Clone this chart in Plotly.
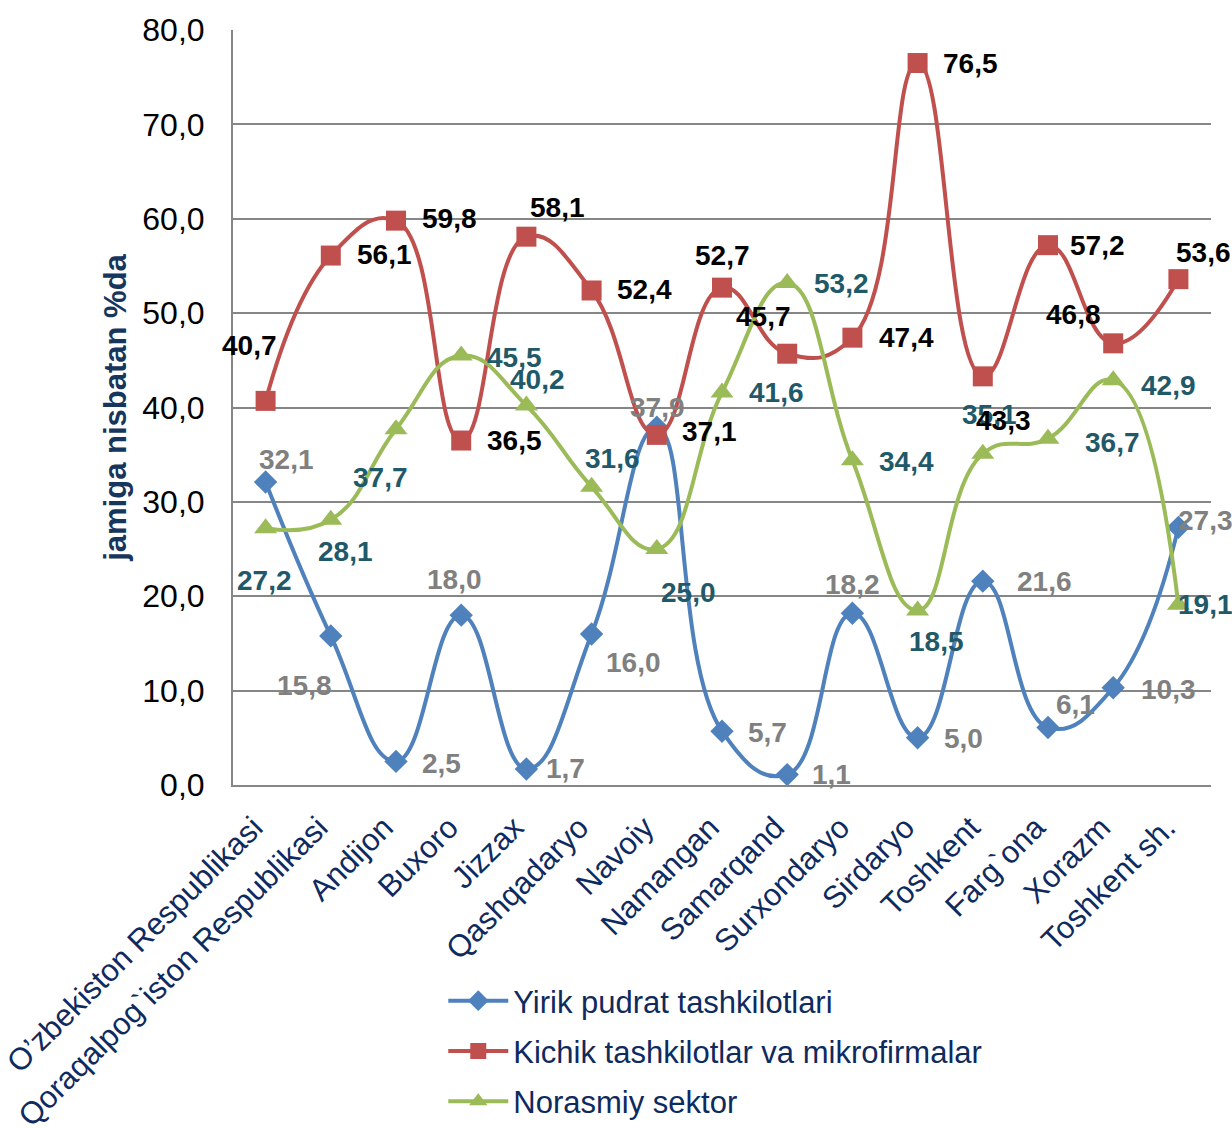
import plotly.graph_objects as go

categories = ["O’zbekiston Respublikasi", "Qoraqalpog`iston Respublikasi", "Andijon", "Buxoro",
              "Jizzax", "Qashqadaryo", "Navoiy", "Namangan", "Samarqand", "Surxondaryo",
              "Sirdaryo", "Toshkent", "Farg`ona", "Xorazm", "Toshkent sh."]
yirik = [32.1, 15.8, 2.5, 18.0, 1.7, 16.0, 37.9, 5.7, 1.1, 18.2, 5.0, 21.6, 6.1, 10.3, 27.3]
kichik = [40.7, 56.1, 59.8, 36.5, 58.1, 52.4, 37.1, 52.7, 45.7, 47.4, 76.5, 43.3, 57.2, 46.8, 53.6]
norasmiy = [27.2, 28.1, 37.7, 45.5, 40.2, 31.6, 25.0, 41.6, 53.2, 34.4, 18.5, 35.1, 36.7, 42.9, 19.1]
series_names = ["Yirik pudrat tashkilotlari", "Kichik tashkilotlar va mikrofirmalar", "Norasmiy sektor"]

# label offsets in pixels (dx right, dy up) relative to each point
yirik_off = [(21, 23), (-26, -50), (45, -2), (-7, 36), (39, 0), (42, -28), (1, 20), (45, -1),
             (44, 0), (0, 29), (46, -1), (62, 0), (27, 23), (55, -2), (27, 7)]
kichik_off = [(-16, 55), (54, 1), (53, 2), (53, 0), (31, 29), (53, 1), (53, 3), (0, 32),
              (-24, 37), (54, 0), (53, 0), (21, -44), (49, 0), (-40, 29), (25, 27)]
norasmiy_off = [(-1, -52), (15, -32), (-16, -48), (53, -2), (11, 26), (21, 28), (32, -43),
                (54, 0), (54, -1), (54, -1), (19, -31), (7, 39), (64, -4), (55, -5), (27, 0)]

colors = ["#4F81BD", "#C0504D", "#9BBB59"]
label_colors = ["#808080", "#000000", "#215968"]
symbols = ["diamond", "square", "triangle-up"]
sizes = [18, 20, 20]
FONT = "Liberation Sans, Arial, sans-serif"
NAVY = "#0E2A5E"

fig = go.Figure()
all_vals = [yirik, kichik, norasmiy]
for i, vals in enumerate(all_vals):
    fig.add_trace(go.Scatter(
        x=categories, y=vals, name=series_names[i], mode="lines+markers",
        line=dict(color=colors[i], width=4, shape="spline", smoothing=1.3),
        marker=dict(symbol=symbols[i], size=sizes[i], color=colors[i]),
        legendgroup=f"g{i}", cliponaxis=False,
    ))

annotations = []
for vals, offs, col in [(norasmiy, norasmiy_off, label_colors[2]),
                        (yirik, yirik_off, label_colors[0]),
                        (kichik, kichik_off, label_colors[1])]:
    for c, v, (dx, dy) in zip(categories, vals, offs):
        annotations.append(dict(
            x=c, y=v, xref="x", yref="y", text=f"{v:.1f}".replace(".", ","),
            showarrow=False, xshift=dx, yshift=dy,
            font=dict(family=FONT, size=28, color=col, weight="bold"),
        ))

fig.update_layout(
    width=1232, height=1145,
    paper_bgcolor="white", plot_bgcolor="white",
    margin=dict(l=233, r=21, t=30, b=360),
    separators=",.",
    font=dict(family=FONT),
    annotations=annotations,
    showlegend=True,
    legend=dict(
        x=0.215, y=-0.2503, xanchor="left", yanchor="top",
        font=dict(family=FONT, size=31, color=NAVY),
        traceorder="grouped", tracegroupgap=7, itemwidth=60,
        bgcolor="rgba(0,0,0,0)",
    ),
    xaxis=dict(
        type="category", range=[-0.5, 14.5], showgrid=False,
        showline=True, linecolor="#868686", linewidth=2,
        tickangle=-45, tickfont=dict(family=FONT, size=31, color=NAVY),
        ticks="", automargin=False, ticklabelstandoff=10, ticklabelshift=-12,
    ),
    yaxis=dict(
        range=[0, 80], dtick=10, tickformat=".1f",
        showgrid=True, gridcolor="#868686", gridwidth=2,
        showline=True, linecolor="#868686", linewidth=2,
        zeroline=False, ticks="", ticklabelstandoff=20,
        tickfont=dict(family=FONT, size=32, color="#000000"),
        title=dict(text="jamiga nisbatan %da", standoff=6,
                   font=dict(family=FONT, size=31, color="#17365D", weight="bold")),
        automargin=False,
    ),
)

fig.write_html("out.html", config={"displayModeBar": False},
               post_script="document.body.style.margin='0';document.body.style.overflow='hidden';"
                           "document.documentElement.style.overflow='hidden';")
